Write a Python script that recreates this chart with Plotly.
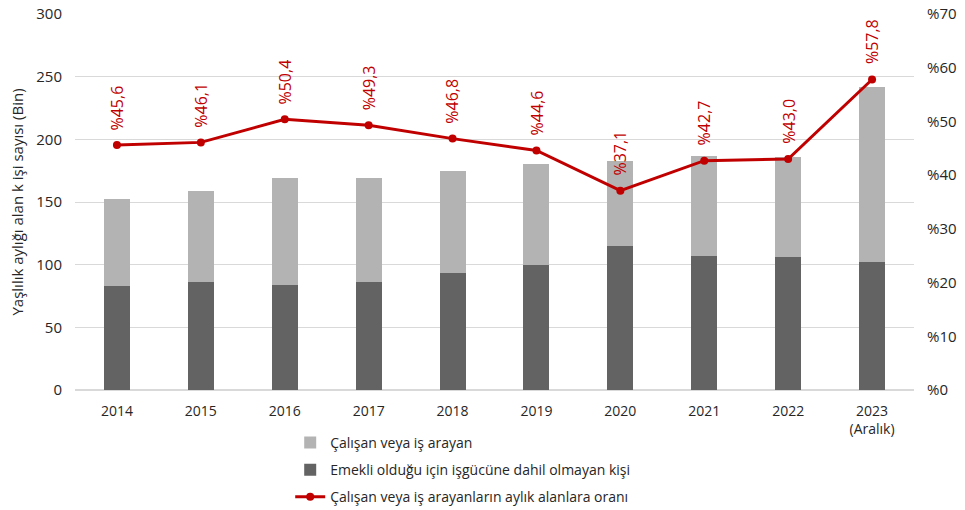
import plotly.graph_objects as go

years = ["2014", "2015", "2016", "2017", "2018", "2019", "2020", "2021", "2022", "2023"]
tick_labels = ["2014", "2015", "2016", "2017", "2018", "2019", "2020", "2021", "2022", "2023<br>(Aralık)"]
emekli = [83, 86, 84, 86, 93, 100, 115, 107, 106, 102]
calisan = [69, 73, 85, 83, 82, 80, 68, 80, 80, 140]
oran = [45.6, 46.1, 50.4, 49.3, 46.8, 44.6, 37.1, 42.7, 43.0, 57.8]

FONT = "Open Sans"
RED = "#c00000"
TXT = "#262626"

fig = go.Figure()
fig.add_trace(go.Bar(x=years, y=emekli, name="Emekli olduğu için işgücüne dahil olmayan kişi",
                     marker=dict(color="#636363", line=dict(width=0)), legendrank=2, legendgroup="b"))
fig.add_trace(go.Bar(x=years, y=calisan, name="Çalışan veya iş arayan",
                     marker=dict(color="#b3b3b3", line=dict(width=0)), legendrank=1, legendgroup="a"))
fig.add_trace(go.Scatter(x=years, y=oran, yaxis="y2", mode="lines+markers",
                         name="Çalışan veya iş arayanların aylık alanlara oranı",
                         line=dict(color=RED, width=3), marker=dict(size=8, color=RED),
                         legendrank=3, legendgroup="c"))

# category index positions on the category axis
for i, v in enumerate(oran):
    fig.add_annotation(x=i, y=v, xref="x", yref="y2", text="%" + f"{v:.1f}".replace(".", ","),
                       textangle=-90, showarrow=False, yanchor="bottom", yshift=13,
                       font=dict(color=RED, size=16, family=FONT))

fig.update_layout(
    width=965, height=510,
    margin=dict(l=75, r=51, t=14, b=120),
    barmode="stack", bargap=0.69,
    plot_bgcolor="white", paper_bgcolor="white",
    font=dict(family=FONT, size=14, color=TXT),
    xaxis=dict(type="category", range=[-0.5, len(years) - 0.5], tickmode="array", tickvals=years,
               ticktext=tick_labels, showgrid=False, showline=False, ticks="", tickfont=dict(size=14),
               tickangle=0, automargin=False, ticklabelstandoff=11),
    yaxis=dict(range=[0, 300], dtick=50, gridcolor="#d9d9d9", gridwidth=1, zeroline=True,
               zerolinecolor="#d9d9d9", ticks="", tickfont=dict(size=15), automargin=False,
               ticklabelstandoff=12,
               title=dict(text="Yaşlılık aylığı alan k işi sayısı (Bin)", font=dict(size=15), standoff=9)),
    yaxis2=dict(range=[0, 70], dtick=10, overlaying="y", side="right", showgrid=False,
                zeroline=False, ticks="", tickprefix="%", tickfont=dict(size=15), automargin=False,
                ticklabelstandoff=12),
    legend=dict(orientation="v", x=0.2565, xref="paper", y=0.163, yref="container",
                xanchor="left", yanchor="top",
                traceorder="grouped", tracegroupgap=6, font=dict(size=14), itemwidth=30),
    showlegend=True,
)

fig.write_html("out.html", config={"displayModeBar": False},
               post_script="document.body.style.margin='0';")
